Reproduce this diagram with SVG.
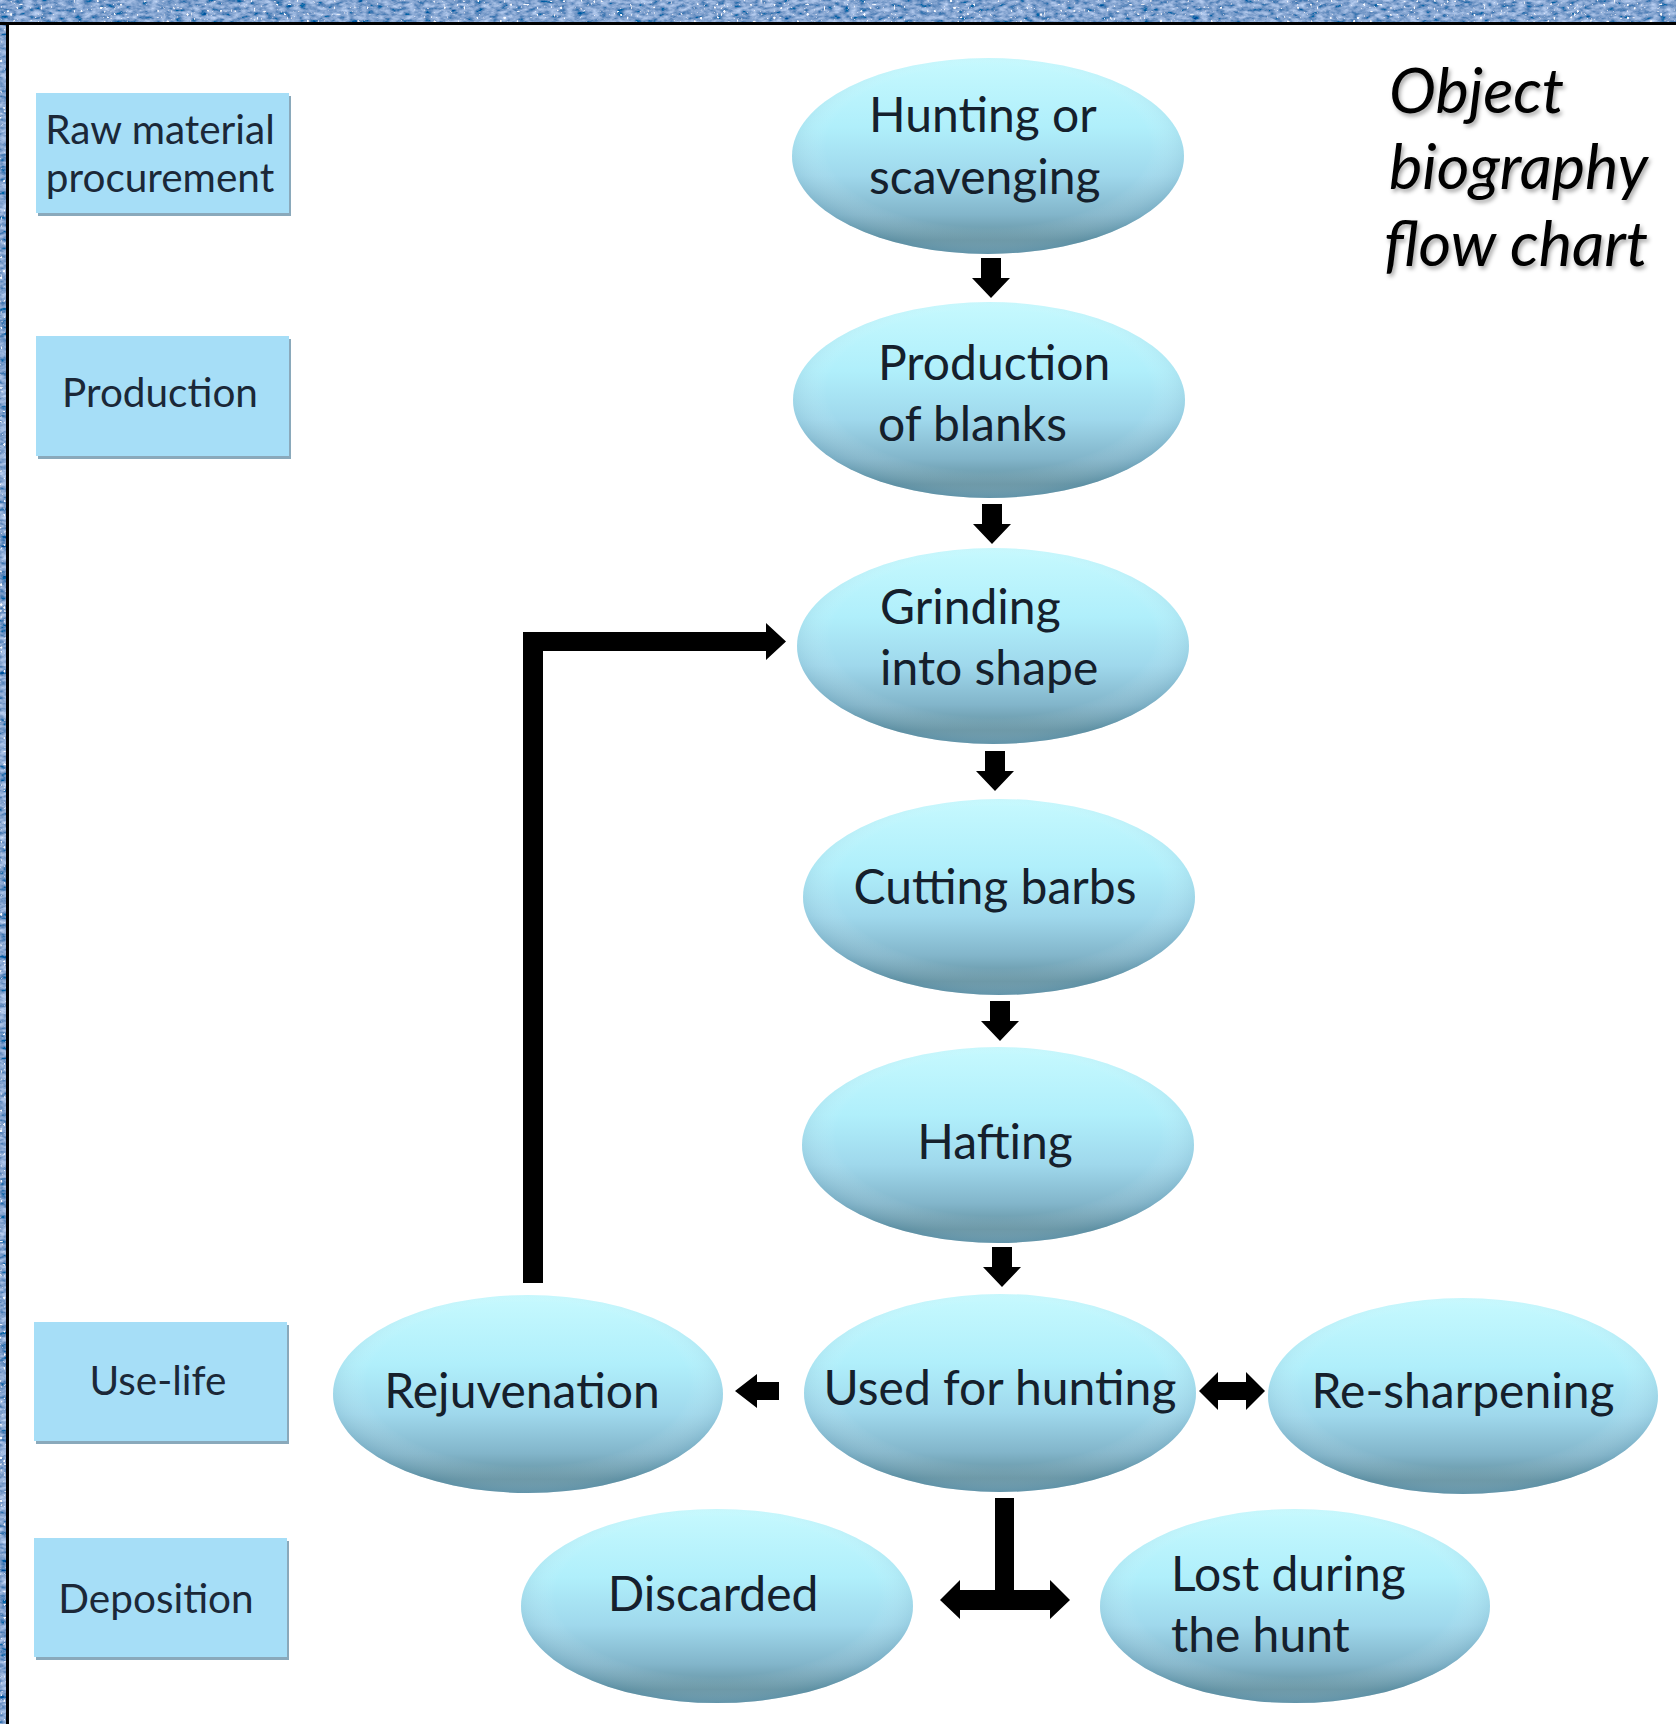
<svg xmlns="http://www.w3.org/2000/svg" xmlns:xlink="http://www.w3.org/1999/xlink" width="1676" height="1724" viewBox="0 0 1676 1724">
<defs>
<style>
.lbl{fill:#a6def7;}
.lblshadow{fill:#8aa9bb;}
.lt{font-family:Lato,"Open Sans",sans-serif;font-size:40.5px;fill:#1b2838;}
.et{font-family:Lato,"Open Sans",sans-serif;font-size:48px;fill:#15202c;}
.ttl{font-family:Lato,"Open Sans",sans-serif;font-style:italic;font-size:63px;fill:#000;}
.ell{fill:url(#eg);}
.arr{fill:#000;}
</style>
<linearGradient id="eg" x1="0" y1="0" x2="0" y2="1">
<stop offset="0" stop-color="#c6f9fe"/>
<stop offset="0.35" stop-color="#b0effb"/>
<stop offset="0.6" stop-color="#9fd8ec"/>
<stop offset="0.8" stop-color="#82b5ca"/>
<stop offset="0.93" stop-color="#62909f"/>
<stop offset="1" stop-color="#6f9aab"/>
</linearGradient>
<radialGradient id="side" cx="0.5" cy="0.45" r="0.55">
<stop offset="0.75" stop-color="#ffffff" stop-opacity="0"/>
<stop offset="1" stop-color="#4a8aa8" stop-opacity="0.35"/>
</radialGradient>
<filter id="tex" x="0" y="0" width="1" height="1">
<feTurbulence type="fractalNoise" baseFrequency="0.12 0.25" numOctaves="3" seed="4" result="n"/>
<feColorMatrix in="n" type="matrix" values="0.8 0 0 0 -0.18  0.8 0 0 0 -0.04  0.8 0 0 0 0.22  0 0 0 0 1" result="b"/>
<feTurbulence type="turbulence" baseFrequency="0.3" numOctaves="1" seed="9" result="n2"/>
<feColorMatrix in="n2" type="matrix" values="0 0 0 0 0.95  0 0 0 0 0.97  0 0 0 0 1  0 0 0 8 -3.2" result="w"/>
<feMerge><feMergeNode in="b"/><feMergeNode in="w"/></feMerge>
</filter>
<filter id="ts" x="-10%" y="-10%" width="130%" height="140%">
<feDropShadow dx="2" dy="3" stdDeviation="2" flood-color="#000" flood-opacity="0.35"/>
</filter>
<path id="down" d="M-10,0 H10 V20 H19 L0,40 L-19,20 H-10 Z"/>
</defs>

<rect width="1676" height="1724" fill="#ffffff"/>
<g id="frame">
<rect x="0" y="0" width="1676" height="22" fill="#4b64a0" filter="url(#tex)"/>
<rect x="0" y="0" width="6" height="1724" fill="#4b64a0" filter="url(#tex)"/>
<rect x="0" y="22" width="1676" height="3" fill="#000"/>
<rect x="6" y="22" width="3" height="1702" fill="#000"/>
</g>

<g id="stage-raw">
<rect class="lblshadow" x="38" y="96" width="253" height="120"/>
<rect class="lbl" x="36" y="93" width="253" height="120"/>
<text class="lt" x="160" y="144" text-anchor="middle">Raw material</text>
<text class="lt" x="160" y="192" text-anchor="middle">procurement</text>
</g>
<g id="stage-production">
<rect class="lblshadow" x="38" y="339" width="253" height="120"/>
<rect class="lbl" x="36" y="336" width="253" height="120"/>
<text class="lt" x="160" y="407" text-anchor="middle">Production</text>
</g>
<g id="stage-uselife">
<rect class="lblshadow" x="36" y="1325" width="253" height="119"/>
<rect class="lbl" x="34" y="1322" width="253" height="119"/>
<text class="lt" x="158" y="1395" text-anchor="middle">Use-life</text>
</g>
<g id="stage-deposition">
<rect class="lblshadow" x="36" y="1541" width="253" height="119"/>
<rect class="lbl" x="34" y="1538" width="253" height="119"/>
<text class="lt" x="156" y="1613" text-anchor="middle">Deposition</text>
</g>

<g id="title" filter="url(#ts)">
<text class="ttl" x="1389" y="113">Object</text>
<text class="ttl" x="1389" y="189">biography</text>
<text class="ttl" x="1384" y="266">flow chart</text>
</g>

<g id="n-hunting">
<ellipse class="ell" cx="988" cy="156" rx="196" ry="98"/>
<ellipse cx="988" cy="156" rx="196" ry="98" fill="url(#side)"/>
<text class="et" x="869" y="132">Hunting or</text>
<text class="et" x="869" y="194">scavenging</text>
</g>
<g id="n-blanks">
<ellipse class="ell" cx="989" cy="400" rx="196" ry="98"/>
<ellipse cx="989" cy="400" rx="196" ry="98" fill="url(#side)"/>
<text class="et" x="878" y="380">Production</text>
<text class="et" x="878" y="441">of blanks</text>
</g>
<g id="n-grinding">
<ellipse class="ell" cx="993" cy="646" rx="196" ry="98"/>
<ellipse cx="993" cy="646" rx="196" ry="98" fill="url(#side)"/>
<text class="et" x="880" y="624">Grinding</text>
<text class="et" x="880" y="685">into shape</text>
</g>
<g id="n-barbs">
<ellipse class="ell" cx="999" cy="897" rx="196" ry="98"/>
<ellipse cx="999" cy="897" rx="196" ry="98" fill="url(#side)"/>
<text class="et" x="995" y="904" text-anchor="middle">Cutting barbs</text>
</g>
<g id="n-hafting">
<ellipse class="ell" cx="998" cy="1145" rx="196" ry="98"/>
<ellipse cx="998" cy="1145" rx="196" ry="98" fill="url(#side)"/>
<text class="et" x="995" y="1159" text-anchor="middle">Hafting</text>
</g>
<g id="n-used">
<ellipse class="ell" cx="1000" cy="1393" rx="196" ry="99"/>
<ellipse cx="1000" cy="1393" rx="196" ry="99" fill="url(#side)"/>
<text class="et" x="1000" y="1405" text-anchor="middle">Used for hunting</text>
</g>
<g id="n-rejuvenation">
<ellipse class="ell" cx="528" cy="1394" rx="195" ry="99"/>
<ellipse cx="528" cy="1394" rx="195" ry="99" fill="url(#side)"/>
<text class="et" x="522" y="1408" text-anchor="middle">Rejuvenation</text>
</g>
<g id="n-resharpening">
<ellipse class="ell" cx="1463" cy="1396" rx="195" ry="98"/>
<ellipse cx="1463" cy="1396" rx="195" ry="98" fill="url(#side)"/>
<text class="et" x="1463" y="1408" text-anchor="middle">Re-sharpening</text>
</g>
<g id="n-discarded">
<ellipse class="ell" cx="717" cy="1606" rx="196" ry="97"/>
<ellipse cx="717" cy="1606" rx="196" ry="97" fill="url(#side)"/>
<text class="et" x="713" y="1611" text-anchor="middle">Discarded</text>
</g>
<g id="n-lost">
<ellipse class="ell" cx="1295" cy="1606" rx="195" ry="97"/>
<ellipse cx="1295" cy="1606" rx="195" ry="97" fill="url(#side)"/>
<text class="et" x="1171" y="1591">Lost during</text>
<text class="et" x="1171" y="1652">the hunt</text>
</g>

<g id="connectors" class="arr">
<use href="#down" x="991" y="258"/>
<use href="#down" x="992" y="504"/>
<use href="#down" x="995" y="751"/>
<use href="#down" x="1000" y="1001"/>
<use href="#down" x="1002" y="1247"/>
<path d="M523,1283 V632 H766 V623 L786,641.5 L766,660 V651 H543 V1283 Z"/>
<path d="M735,1391 L757,1374 V1382 H779 V1400 H757 V1408 Z"/>
<path d="M1199,1391 L1218,1372 V1382 H1246 V1372 L1265,1391 L1246,1410 V1400 H1218 V1410 Z"/>
<path d="M995,1498 H1014 V1590 H1050 V1580 L1070,1600 L1050,1619 V1610 H960 V1619 L940,1600 L960,1580 V1590 H995 Z"/>
</g>
</svg>
